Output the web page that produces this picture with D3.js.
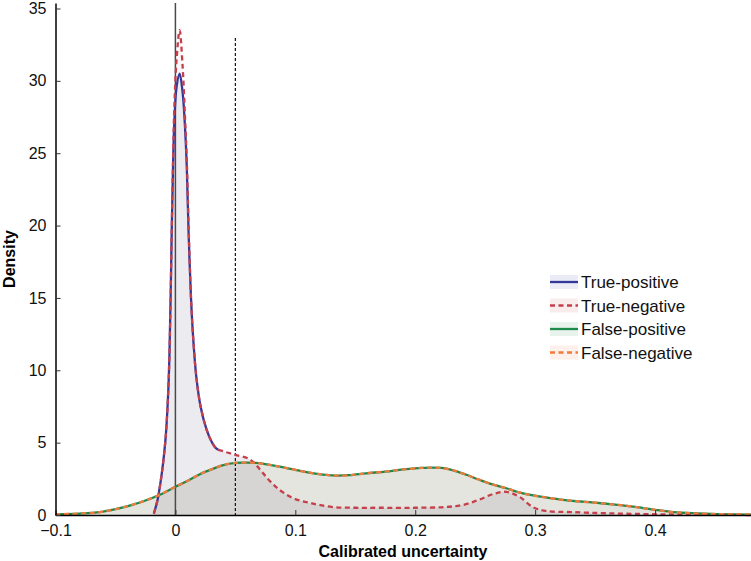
<!DOCTYPE html>
<html>
<head>
<meta charset="UTF-8">
<style>
  body { margin: 0; background: #fff; }
  svg { display: block; font-family: 'Liberation Sans', Arial, sans-serif; }
</style>
</head>
<body>
<div id="chart"></div>
<script src="https://cdnjs.cloudflare.com/ajax/libs/d3/7.8.5/d3.min.js"></script>
<script>
// densities: [calibrated uncertainty, density]
const truePositive = [
  [-0.018, 0.1], [-0.015, 1.0], [-0.012, 2.5], [-0.01, 3.8], [-0.008, 5.5], [-0.006, 8.5],
  [-0.005, 11], [-0.004, 15], [-0.003, 20], [-0.002, 24], [-0.001, 27], [0.001, 29.6],
  [0.0035, 30.5], [0.006, 29.2], [0.008, 26.8], [0.0095, 24], [0.011, 19.5], [0.013, 15],
  [0.015, 12], [0.0175, 9.5], [0.021, 7.5], [0.026, 5.9], [0.03, 5.1], [0.034, 4.6],
  [0.04, 4.4], [0.05, 4.15], [0.062, 3.85], [0.07, 3.2], [0.076, 2.6], [0.083, 2.0],
  [0.09, 1.55], [0.1, 1.1], [0.114, 0.8], [0.131, 0.55], [0.15, 0.5], [0.17, 0.5],
  [0.2, 0.5], [0.225, 0.55], [0.24, 0.7], [0.253, 1.05], [0.265, 1.45], [0.276, 1.6],
  [0.287, 1.25], [0.298, 0.55], [0.309, 0.28], [0.33, 0.2], [0.36, 0.12], [0.4, 0.05],
  [0.43, 0.02], [0.48, 0]
];
const trueNegative = [
  [-0.018, 0.1], [-0.015, 1.0], [-0.012, 2.5], [-0.01, 3.8], [-0.008, 5.5], [-0.006, 8.5],
  [-0.005, 11], [-0.004, 15], [-0.003, 20], [-0.002, 24.5], [-0.001, 28], [0.001, 31.5],
  [0.0035, 33.5], [0.006, 31], [0.008, 27.5], [0.0095, 24.5], [0.011, 20], [0.013, 15],
  [0.015, 12], [0.0175, 9.5], [0.021, 7.5], [0.026, 5.9], [0.03, 5.1], [0.034, 4.6],
  [0.04, 4.4], [0.05, 4.15], [0.062, 3.85], [0.07, 3.2], [0.076, 2.6], [0.083, 2.0],
  [0.09, 1.55], [0.1, 1.1], [0.114, 0.8], [0.131, 0.55], [0.15, 0.5], [0.17, 0.5],
  [0.2, 0.5], [0.225, 0.55], [0.24, 0.7], [0.253, 1.05], [0.265, 1.45], [0.276, 1.6],
  [0.287, 1.25], [0.298, 0.55], [0.309, 0.28], [0.33, 0.2], [0.36, 0.12], [0.4, 0.05],
  [0.43, 0.02], [0.48, 0]
];
const falsePositive = [
  [-0.1, 0.05], [-0.08, 0.1], [-0.063, 0.2], [-0.05, 0.4], [-0.036, 0.7], [-0.025, 1.0],
  [-0.013, 1.4], [0, 1.95], [0.01, 2.35], [0.02, 2.8], [0.03, 3.15], [0.04, 3.45],
  [0.05, 3.6], [0.06, 3.62], [0.067, 3.6], [0.08, 3.45], [0.092, 3.25], [0.104, 3.05],
  [0.114, 2.9], [0.125, 2.78], [0.134, 2.72], [0.145, 2.75], [0.159, 2.88], [0.175, 3.0],
  [0.19, 3.15], [0.205, 3.25], [0.214, 3.28], [0.222, 3.25], [0.231, 3.1], [0.242, 2.8],
  [0.253, 2.45], [0.265, 2.1], [0.276, 1.85], [0.285, 1.6], [0.295, 1.4], [0.31, 1.2],
  [0.323, 1.05], [0.335, 0.95], [0.35, 0.85], [0.365, 0.73], [0.378, 0.62], [0.39, 0.48],
  [0.4, 0.36], [0.413, 0.22], [0.426, 0.14], [0.447, 0.07], [0.48, 0.03]
];
const falseNegative = [
  [-0.1, 0.05], [-0.08, 0.1], [-0.063, 0.2], [-0.05, 0.4], [-0.036, 0.7], [-0.025, 1.0],
  [-0.013, 1.4], [0, 1.95], [0.01, 2.35], [0.02, 2.8], [0.03, 3.15], [0.04, 3.45],
  [0.05, 3.6], [0.06, 3.62], [0.067, 3.6], [0.08, 3.45], [0.092, 3.25], [0.104, 3.05],
  [0.114, 2.9], [0.125, 2.78], [0.134, 2.72], [0.145, 2.75], [0.159, 2.88], [0.175, 3.0],
  [0.19, 3.15], [0.205, 3.25], [0.214, 3.28], [0.222, 3.25], [0.231, 3.1], [0.242, 2.8],
  [0.253, 2.45], [0.265, 2.1], [0.276, 1.85], [0.285, 1.6], [0.295, 1.4], [0.31, 1.2],
  [0.323, 1.05], [0.335, 0.95], [0.35, 0.85], [0.365, 0.73], [0.378, 0.62], [0.39, 0.48],
  [0.4, 0.36], [0.413, 0.22], [0.426, 0.14], [0.447, 0.07], [0.48, 0.03]
];
const xTicks = [-0.1, 0, 0.1, 0.2, 0.3, 0.4];
const yTicks = [0, 5, 10, 15, 20, 25, 30, 35];
const seriesNames = ["True-positive", "True-negative", "False-positive", "False-negative"];
const threshold = 0.05;

const W = 751, H = 561;
const svg = d3.select("#chart").append("svg").attr("width", W).attr("height", H);

const x = d3.scaleLinear().domain([-0.1, 0.48]).range([55.5, 751]);
const y = d3.scaleLinear().domain([0, 35.38]).range([515, 3]);

const series = [
  { name: seriesNames[0], data: truePositive, color: "#34379a", fill: "#6060a0", fo: 0.09, dash: null },
  { name: seriesNames[1], data: trueNegative, color: "#c6404c", fill: "#a08888", fo: 0.05, dash: "5,3.5" },
  { name: seriesNames[2], data: falsePositive, color: "#1d8a4c", fill: "#7a8a6a", fo: 0.13, dash: null },
  { name: seriesNames[3], data: falseNegative, color: "#f27a3c", fill: "#9a8a6a", fo: 0.1, dash: "5,3.5" }
];

const area = d3.area().x(d => x(d[0])).y0(y(0)).y1(d => y(d[1])).curve(d3.curveCatmullRom);
const line = d3.line().x(d => x(d[0])).y(d => y(d[1])).curve(d3.curveCatmullRom);

// fills
series.forEach(s => {
  svg.append("path").datum(s.data).attr("d", area)
    .attr("fill", s.fill).attr("fill-opacity", s.fo);
});

// the blue line only shows on the spike, the red dashes cover its tail
svg.append("clipPath").attr("id", "spike")
  .append("rect").attr("x", 0).attr("y", 0).attr("width", x(0.036)).attr("height", H);

// reference lines
svg.append("line")
  .attr("x1", x(0)).attr("x2", x(0)).attr("y1", 3).attr("y2", y(0))
  .attr("stroke", "#4a4a4a").attr("stroke-width", 1.5);
svg.append("line")
  .attr("x1", x(threshold)).attr("x2", x(threshold)).attr("y1", 38).attr("y2", y(0))
  .attr("stroke", "#111").attr("stroke-width", 1.2).attr("stroke-dasharray", "3,2");

// lines: solid first, dashed on top
[series[0], series[2], series[1], series[3]].forEach((s, i) => {
  svg.append("path").datum(s.data).attr("d", line)
    .attr("fill", "none").attr("stroke", s.color).attr("stroke-width", 2.3)
    .attr("stroke-dasharray", s.dash)
    .attr("clip-path", i === 0 ? "url(#spike)" : null);
});

// axes
const xAxis = svg.append("g").attr("transform", `translate(0,${y(0)})`)
  .call(d3.axisBottom(x).tickValues(xTicks).tickSizeInner(-5).tickSizeOuter(0)
    .tickPadding(10).tickFormat(d => d3.format("")(d).replace("-", "\u2212")));
xAxis.select(".domain").attr("stroke", "#000").attr("stroke-width", 1.5);
xAxis.selectAll(".tick line").attr("stroke", "#333");
xAxis.selectAll(".tick text").attr("font-size", 16).attr("fill", "#111");

const yAxis = svg.append("g").attr("transform", `translate(${x(-0.1)},0)`)
  .call(d3.axisLeft(y).tickValues(yTicks).tickSizeInner(-5).tickSizeOuter(0).tickPadding(9));
yAxis.select(".domain").attr("stroke", "#000").attr("stroke-width", 1.5);
yAxis.selectAll(".tick line").attr("stroke", "#333");
yAxis.selectAll(".tick text").attr("font-size", 16).attr("fill", "#111");

// axis titles
svg.append("text").attr("x", 403).attr("y", 557).attr("text-anchor", "middle")
  .attr("font-size", 16).attr("font-weight", "bold").text("Calibrated uncertainty");
svg.append("text").attr("transform", "translate(15,259) rotate(-90)").attr("text-anchor", "middle")
  .attr("font-size", 16).attr("font-weight", "bold").text("Density");

// legend
const legend = svg.append("g").attr("transform", "translate(550,282)");
series.forEach((s, i) => {
  const g = legend.append("g").attr("transform", `translate(0,${i * 23.5})`);
  g.append("rect").attr("x", 0).attr("y", -7).attr("width", 28).attr("height", 14)
    .attr("fill", s.color).attr("fill-opacity", 0.1);
  g.append("line").attr("x1", 0).attr("x2", 28).attr("y1", 0).attr("y2", 0)
    .attr("stroke", s.color).attr("stroke-width", 2.3).attr("stroke-dasharray", s.dash);
  g.append("text").attr("x", 31).attr("y", 6).attr("font-size", 17).attr("fill", "#111").text(s.name);
});
</script>
</body>
</html>
